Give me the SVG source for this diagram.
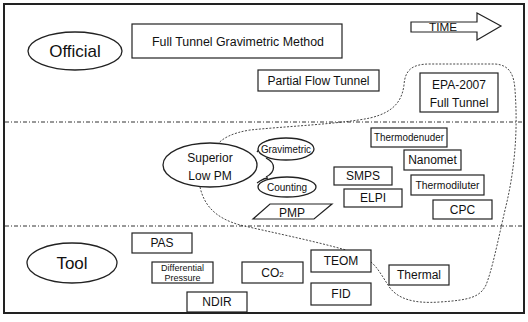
<svg xmlns="http://www.w3.org/2000/svg" width="528" height="322" viewBox="0 0 528 322">
<style>
text{font-family:"Liberation Sans",Arial,sans-serif;fill:#111;text-anchor:middle}
.box{fill:#fff;stroke:#222;stroke-width:1.2}
.ell{fill:#fff;stroke:#222;stroke-width:1.3}
.sep{fill:none;stroke:#333;stroke-width:1;stroke-dasharray:4 2 1 2}
.cur{fill:none;stroke:#333;stroke-width:0.9;stroke-dasharray:2 1.5}
.t12{font-size:12px}
.t10{font-size:10px}
.t9{font-size:9px}
.big{font-size:17px}
</style>
<rect x="0" y="0" width="528" height="322" fill="#fff"/>
<rect x="4" y="4" width="520" height="309" fill="none" stroke="#222" stroke-width="2"/>
<g id="connectors">
<line class="sep" x1="5" y1="122" x2="523" y2="122"/>
<line class="sep" x1="5" y1="226" x2="523" y2="226"/>
<path class="cur" d="M215,147 C222,138 232,133 250,130 C290,126 340,124 370,118 C395,112 402,100 404,85 C405,70 412,64 430,64 L495,64 C510,65 514,75 515,90 C518,130 515,170 505,210 C497,245 492,270 486,285 C480,297 470,300 440,302 C412,304 398,298 390,288 C382,276 378,268 371,262"/>
<path class="cur" d="M200,187 C204,205 215,218 240,225 C270,232 310,240 346,250"/>
</g>
<g id="official">
<ellipse class="ell" cx="75" cy="51" rx="47" ry="19"/>
<text class="big" x="75" y="57">Official</text>
</g>
<g id="full-tunnel">
<rect class="box" x="132" y="24" width="210" height="34"/>
<text class="t12" x="238" y="46" textLength="172" lengthAdjust="spacingAndGlyphs">Full Tunnel Gravimetric Method</text>
</g>
<g id="partial-flow">
<rect class="box" x="258" y="70" width="121" height="21"/>
<text class="t12" x="318.500" y="85">Partial Flow Tunnel</text>
</g>
<g id="time">
<path d="M411,22 L477,22 L477,13 L501,26 L477,40 L477,32 L411,32 Z" fill="#fff" stroke="#222" stroke-width="1.2"/>
<text x="443" y="31" font-size="11" textLength="28" lengthAdjust="spacingAndGlyphs">TIME</text>
</g>
<g id="epa-2007">
<rect class="box" x="420" y="73" width="78" height="39"/>
<text class="t12" x="459" y="89">EPA-2007</text>
<text class="t12" x="459" y="107">Full Tunnel</text>
</g>
<g id="superior">
<path d="M257,152 C262,146 264,141 270,140 M257,183 C262,180 263,178 268,178 M266,158 C276,163 276,172 266,177" fill="none" stroke="#222" stroke-width="1.3"/>
<ellipse class="ell" cx="210" cy="165" rx="47" ry="22"/>
<text class="t12" x="210" y="162">Superior</text>
<text class="t12" x="210" y="180">Low PM</text>
</g>
<g id="gravimetric">
<ellipse class="ell" cx="286" cy="149" rx="28" ry="11"/>
<text class="t10" x="286" y="153" textLength="50" lengthAdjust="spacingAndGlyphs">Gravimetric</text>
</g>
<g id="counting">
<ellipse class="ell" cx="287" cy="187" rx="29" ry="10"/>
<text class="t10" x="287" y="191">Counting</text>
</g>
<g id="pmp">
<path d="M270,204 L332,204 L314,219 L253,219 Z" fill="#fff" stroke="#222" stroke-width="1.2"/>
<text class="t12" x="292" y="217">PMP</text>
</g>
<g id="thermodenuder">
<rect class="box" x="371" y="128" width="76" height="19"/>
<text class="t10" x="409" y="141" textLength="70" lengthAdjust="spacingAndGlyphs">Thermodenuder</text>
</g>
<g id="nanomet">
<rect class="box" x="404" y="150" width="57" height="20"/>
<text class="t12" x="432.500" y="164">Nanomet</text>
</g>
<g id="smps">
<rect class="box" x="334" y="167" width="58" height="18"/>
<text class="t12" x="363" y="180">SMPS</text>
</g>
<g id="elpi">
<rect class="box" x="344" y="189" width="58" height="18"/>
<text class="t12" x="373" y="202">ELPI</text>
</g>
<g id="thermodiluter">
<rect class="box" x="411" y="175" width="73" height="20"/>
<text class="t10" x="447.500" y="189" textLength="64" lengthAdjust="spacingAndGlyphs">Thermodiluter</text>
</g>
<g id="cpc">
<rect class="box" x="433" y="200" width="59" height="19"/>
<text class="t12" x="462.500" y="214">CPC</text>
</g>
<g id="tool">
<ellipse class="ell" cx="72" cy="263" rx="45" ry="20"/>
<text class="big" x="72" y="269">Tool</text>
</g>
<g id="pas">
<rect class="box" x="132" y="233" width="60" height="20"/>
<text class="t12" x="162" y="247">PAS</text>
</g>
<g id="differential-pressure">
<rect class="box" x="152" y="262" width="61" height="21"/>
<text class="t9" x="182.500" y="271">Differential</text>
<text class="t9" x="182.500" y="281">Pressure</text>
</g>
<g id="ndir">
<rect class="box" x="187" y="292" width="60" height="20"/>
<text class="t12" x="217" y="306">NDIR</text>
</g>
<g id="co2">
<rect class="box" x="242" y="262" width="61" height="21"/>
<text class="t12" x="272.500" y="277">CO<tspan font-size="8">2</tspan></text>
</g>
<g id="teom">
<rect class="box" x="311" y="250" width="60" height="22"/>
<text class="t12" x="341" y="265">TEOM</text>
</g>
<g id="fid">
<rect class="box" x="311" y="283" width="60" height="22"/>
<text class="t12" x="341" y="298">FID</text>
</g>
<g id="thermal">
<rect class="box" x="389" y="265" width="60" height="20"/>
<text class="t12" x="419" y="279">Thermal</text>
</g>
</svg>
